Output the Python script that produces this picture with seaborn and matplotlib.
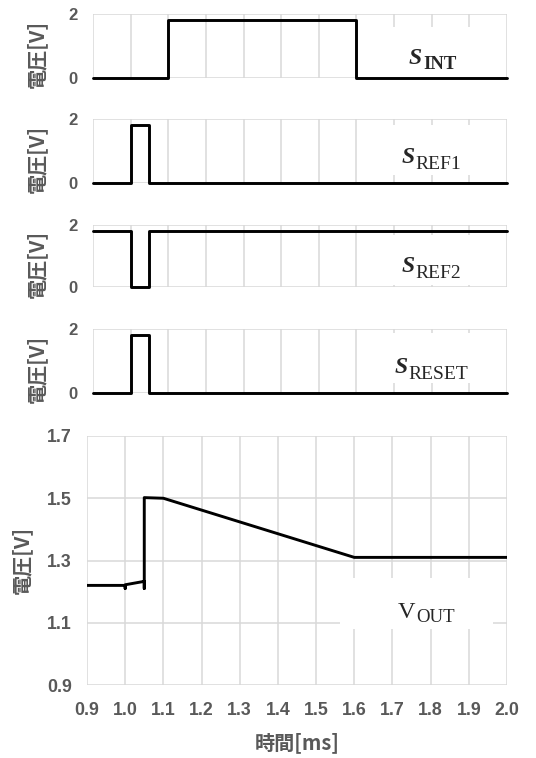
import matplotlib
matplotlib.use("Agg")
import matplotlib.pyplot as plt
import matplotlib.patches as mpatches
import pandas as pd
import seaborn as sns

# --------------------------
# DATA (time in ms, voltage in V)
# --------------------------
sint_t = [0.9, 1.1, 1.1, 1.6, 1.6, 2.0]
sint_v = [0, 0, 1.8, 1.8, 0, 0]

sref1_t = [0.9, 1.0, 1.0, 1.05, 1.05, 2.0]
sref1_v = [0, 0, 1.8, 1.8, 0, 0]

sref2_t = [0.9, 1.0, 1.0, 1.05, 1.05, 2.0]
sref2_v = [1.8, 1.8, 0, 0, 1.8, 1.8]

sreset_t = [0.9, 1.0, 1.0, 1.05, 1.05, 2.0]
sreset_v = [0, 0, 1.8, 1.8, 0, 0]

vout_t = [0.9, 1.0, 1.0, 1.0, 1.05, 1.05, 1.05, 1.1, 1.6, 2.0]
vout_v = [1.22, 1.22, 1.21, 1.222, 1.233, 1.21, 1.502, 1.5, 1.31, 1.31]

x_ticks = [0.9, 1.0, 1.1, 1.2, 1.3, 1.4, 1.5, 1.6, 1.7, 1.8, 1.9, 2.0]
x_tick_labels = ["0.9", "1.0", "1.1", "1.2", "1.3", "1.4", "1.5", "1.6", "1.7", "1.8", "1.9", "2.0"]
sig_yticks = [0, 2]
vout_yticks = [0.9, 1.1, 1.3, 1.5, 1.7]
vout_ytick_labels = ["0.9", "1.1", "1.3", "1.5", "1.7"]

ylabel = "電圧[V]"
xlabel = "時間[ms]"

# --------------------------
# STYLE
# --------------------------
sns.set_style("white")
plt.rcParams["font.family"] = ["Liberation Sans", "Noto Sans CJK JP"]

W, H = 536, 758
GRID = "#d9d9d9"
TXT = "#595959"

fig = plt.figure(figsize=(W / 100, H / 100), dpi=100)


def px_axes(left, top, right, bottom):
    return fig.add_axes([left / W, 1 - bottom / H, (right - left) / W, (bottom - top) / H])


def sub_label(ax, x, y, main, sub, size, sub_size, italic=True, main_bold=True, sub_bold=False, dy=0.0):
    t = ax.text(x, y, main, transform=ax.transAxes, fontfamily="Liberation Serif",
                fontsize=size, fontweight="bold" if main_bold else "normal",
                fontstyle="italic" if italic else "normal", va="baseline", ha="left", zorder=5)
    ax.annotate(sub, xy=(1, 0), xycoords=t, xytext=(0.6, dy), textcoords="offset points",
                fontfamily="Liberation Serif", fontsize=sub_size,
                fontweight="bold" if sub_bold else "normal", va="baseline", ha="left", zorder=5)


def style_axes(ax):
    for s in ax.spines.values():
        s.set_visible(False)
    ax.grid(True, color=GRID, lw=1.1)
    ax.set_axisbelow(True)
    ax.set_xlim(0.9, 2.0)
    ax.set_xticks(x_ticks)


# --------------------------
# SIGNAL PANELS
# --------------------------
signals = [
    (sint_t, sint_v, "INT", True, (14, 78), (0.763, 0.22), (0.0, 0.80)),
    (sref1_t, sref1_v, "REF1", False, (119, 183), (0.746, 0.31), (0.125, 0.906)),
    (sref2_t, sref2_v, "REF2", False, (225, 287), (0.746, 0.24), (0.03, 0.84)),
    (sreset_t, sreset_v, "RESET", False, (329, 393), (0.729, 0.31), (0.156, 0.94)),
]

for t, v, name, sub_bold, (top, bot), (lx, ly), (by0, by1) in signals:
    ax = px_axes(93, top, 507, bot)
    df = pd.DataFrame({"t": t, "v": v})
    sns.lineplot(data=df, x="t", y="v", sort=False, estimator=None, color="black",
                 lw=2.1, ax=ax, clip_on=False, zorder=3)
    style_axes(ax)
    ax.set_ylim(0, 2)
    ax.set_yticks(sig_yticks)
    ax.set_xticklabels([])
    ax.tick_params(axis="both", length=0)
    ax.tick_params(axis="y", pad=11, labelsize=12, labelcolor=TXT)
    for lab in ax.get_yticklabels():
        lab.set_fontweight("bold")
    ax.set_xlabel("")
    ax.set_ylabel(ylabel, fontfamily="Noto Sans CJK JP", fontsize=14.5, fontweight="bold", color=TXT)
    ax.yaxis.set_label_coords(-0.111, 0.375)
    ax.add_patch(mpatches.Rectangle((0.665, by0), 0.31, by1 - by0, transform=ax.transAxes,
                                    facecolor="white", edgecolor="none", zorder=1))
    sub_label(ax, lx, ly, "S", name, 17, 13.5 if sub_bold else 14, sub_bold=sub_bold, dy=-0.3)

# --------------------------
# VOUT PANEL
# --------------------------
ax = px_axes(87, 436, 507, 685)
df = pd.DataFrame({"t": vout_t, "v": vout_v})
sns.lineplot(data=df, x="t", y="v", sort=False, estimator=None, color="black",
             lw=2.1, ax=ax, zorder=3)
style_axes(ax)
ax.set_ylim(0.9, 1.7)
ax.set_yticks(vout_yticks)
ax.set_yticklabels(vout_ytick_labels)
ax.set_xticklabels(x_tick_labels)
ax.tick_params(axis="both", length=0, labelsize=12.8, labelcolor=TXT)
ax.tick_params(axis="y", pad=11)
ax.tick_params(axis="x", pad=12)
for lab in ax.get_xticklabels() + ax.get_yticklabels():
    lab.set_fontweight("bold")
ax.set_xlabel(xlabel, fontfamily="Noto Sans CJK JP", fontsize=14.5, fontweight="bold",
              color=TXT, labelpad=10)
ax.set_ylabel(ylabel, fontfamily="Noto Sans CJK JP", fontsize=14.5, fontweight="bold", color=TXT)
ax.yaxis.set_label_coords(-0.131, 0.5)
ax.add_patch(mpatches.Rectangle((0.602, 0.225), 0.365, 0.205, transform=ax.transAxes,
                                facecolor="white", edgecolor="none", zorder=1))
sub_label(ax, 0.74, 0.27, "V", "OUT", 17.5, 13.5, italic=False, main_bold=False, dy=0.5)

fig.savefig("out.png", dpi=100)
